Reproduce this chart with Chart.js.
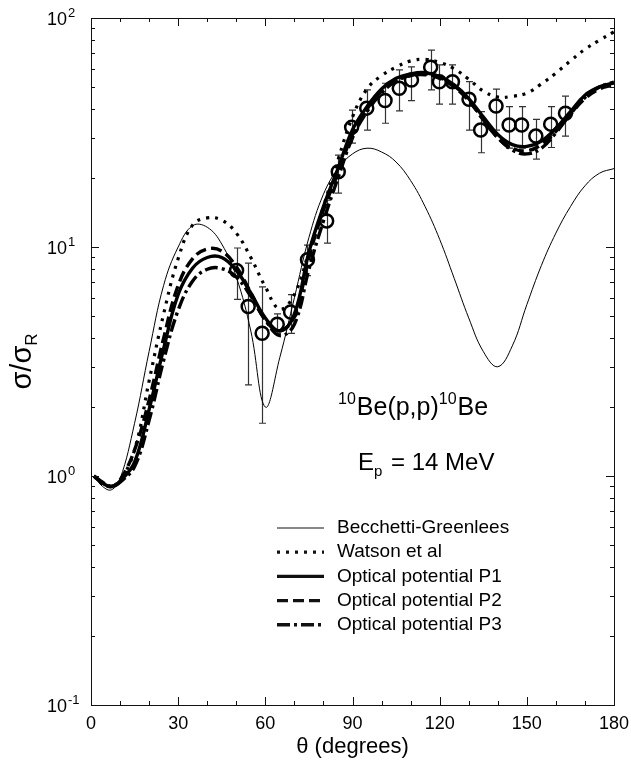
<!DOCTYPE html>
<html>
<head>
<meta charset="utf-8">
<script src="https://cdn.jsdelivr.net/npm/chart.js@4.4.1/dist/chart.umd.min.js"></script>
<style>
  html, body { margin: 0; padding: 0; background: #fff; }
  #wrap { width: 631px; height: 766px; }
</style>
</head>
<body>
<div id="wrap"><canvas id="chart" width="631" height="766"></canvas></div>
<script>
// angles (degrees) shared by the calculated curves
const theta = [1, 4, 7, 10, 15, 20, 25, 30, 35, 40, 45, 50, 55, 60, 65, 70, 75, 80, 85, 90,
  95, 100, 105, 110, 115, 120, 125, 130, 135, 140, 145, 150, 155, 160, 165, 170, 175, 180];

const becchetti = [1.0, 0.9, 0.87, 0.97, 1.7, 3.5, 6.8, 10.0, 12.4, 12.2, 10.3, 7.4, 4.3, 2.0, 3.3, 6.0, 11, 17, 22, 25.5,
  27, 26, 23.5, 19.5, 15.0, 10.8, 7.3, 4.9, 3.5, 3.0, 3.7, 5.6, 8.3, 11.5, 15, 18.5, 21, 22];
const watson = [1.0, 0.92, 0.9, 0.95, 1.3, 2.6, 5.1, 8.9, 12.5, 13.4, 13.1, 11.5, 9.0, 6.7, 5.35, 6.2, 9.5, 15, 24, 37,
  49, 56, 61, 65, 66, 64, 60, 54, 48, 45.2, 45.5, 47, 51.5, 57.5, 65, 73, 80, 87];
const p1 = [1.0, 0.93, 0.9, 0.95, 1.15, 1.95, 3.6, 6.2, 8.1, 9.0, 9.0, 7.9, 6.3, 4.9, 4.3, 5.1, 9.5, 15, 22, 32.5,
  41, 49, 54.5, 57, 57.7, 55.5, 51, 44.5, 37, 31, 28, 27.5, 29, 33, 39, 46, 50, 52];
const p2 = [1.0, 0.93, 0.9, 0.96, 1.3, 2.15, 4.0, 6.8, 8.9, 9.8, 9.6, 8.2, 6.3, 4.8, 4.3, 5.0, 9.0, 14.5, 21, 31,
  40, 48, 53.5, 56, 56.5, 54.5, 50, 43.5, 36, 30, 27, 26.3, 28, 32, 38, 44.5, 49, 51];
const p3 = [1.0, 0.94, 0.9, 0.94, 1.1, 1.75, 3.2, 5.3, 7.1, 8.0, 8.05, 7.4, 6.1, 4.8, 4.1, 4.6, 8.0, 13, 20, 30,
  39, 47, 53, 56, 57, 55, 50.5, 44, 36, 30, 26.5, 25.5, 27, 31.5, 38, 45, 50, 52.5];

// measured points with error bars
const expTheta = [50.1, 54.1, 58.9, 64.1, 68.7, 74.5, 81.1, 85.1, 89.7, 94.9, 101.2, 106.1, 110.3, 116.9,
  119.9, 124.4, 130.1, 134.1, 139.4, 143.9, 148.2, 153.1, 158.2, 163.3];
const expValue = [7.9, 5.5, 4.2, 4.6, 5.2, 8.8, 13.0, 21.3, 33.3, 40.4, 43.6, 49.3, 53.6, 61.0,
  52.7, 52.7, 44.2, 32.4, 41.3, 34.1, 34.1, 30.5, 34.4, 38.4];
const expLow = [5.9, 2.5, 1.7, 4.2, 4.2, 7.5, 10.4, 17.2, 28.4, 32.4, 34.7, 39.3, 43.6, 48.5,
  42.1, 42.1, 32.4, 25.8, 32.4, 27, 27, 24.2, 27.2, 30.5];
const expHigh = [9.9, 8.5, 6.7, 5.1, 6.2, 10.2, 16, 25.2, 39.6, 48.5, 51.9, 59.3, 61.2, 72.4,
  62.4, 62.4, 52.7, 39, 48.9, 41, 41, 36.1, 41, 45.6];

// axis ticks
const xMajor = [0, 30, 60, 90, 120, 150, 180];
const yDecades = [-1, 0, 1, 2];

const legendLabels = ['Becchetti-Greenlees', 'Watson et al', 'Optical potential P1',
  'Optical potential P2', 'Optical potential P3'];

const FONT = '"Liberation Sans", Arial, Helvetica, sans-serif';

const pts = (ys) => theta.map((t, i) => ({ x: t, y: ys[i] }));

const curve = (label, ys, width, dash) => ({
  label,
  data: pts(ys),
  borderColor: '#000',
  borderWidth: width,
  borderDash: dash,
  borderCapStyle: 'butt',
  tension: 0.4,
  pointRadius: 0,
  fill: false
});

const datasets = [
  curve(legendLabels[0], becchetti, 1, []),
  curve(legendLabels[1], watson, 3.2, [3, 6]),
  curve(legendLabels[2], p1, 3.4, []),
  curve(legendLabels[3], p2, 3.4, [11, 5]),
  curve(legendLabels[4], p3, 3.4, [13, 4, 3, 4]),
  {
    label: 'data',
    data: expTheta.map((t, i) => ({ x: t, y: expValue[i] })),
    showLine: false,
    pointStyle: 'circle',
    pointRadius: 6.5,
    pointBorderWidth: 2.5,
    pointBorderColor: '#000',
    pointBackgroundColor: 'rgba(0,0,0,0)'
  }
];

// error bars, frame, ticks, labels and legend
const decor = {
  id: 'decor',
  beforeDatasetsDraw(chart) {
    const { ctx } = chart;
    const x = chart.scales.x, y = chart.scales.y;
    ctx.save();
    ctx.strokeStyle = '#333';
    ctx.lineWidth = 1.2;
    expTheta.forEach((t, i) => {
      const px = Math.round(x.getPixelForValue(t)) + 0.5;
      const y1 = y.getPixelForValue(expLow[i]);
      const y2 = y.getPixelForValue(expHigh[i]);
      ctx.beginPath();
      ctx.moveTo(px, y1); ctx.lineTo(px, y2);
      ctx.moveTo(px - 3.5, y1); ctx.lineTo(px + 3.5, y1);
      ctx.moveTo(px - 3.5, y2); ctx.lineTo(px + 3.5, y2);
      ctx.stroke();
    });
    ctx.restore();
  },
  afterDraw(chart) {
    const { ctx, chartArea: a } = chart;
    const x = chart.scales.x, y = chart.scales.y;
    ctx.save();
    ctx.strokeStyle = '#111';
    ctx.lineWidth = 1;
    ctx.strokeRect(Math.round(a.left) + 0.5, Math.round(a.top) + 0.5,
      Math.round(a.right - a.left), Math.round(a.bottom - a.top));

    // x ticks, inward on bottom and top
    ctx.beginPath();
    for (let v = 0; v <= 180; v += 10) {
      const px = Math.round(x.getPixelForValue(v)) + 0.5;
      const len = v % 30 === 0 ? 8 : 4;
      ctx.moveTo(px, a.bottom); ctx.lineTo(px, a.bottom - len);
      ctx.moveTo(px, a.top); ctx.lineTo(px, a.top + len);
    }
    // y ticks, inward on left and right
    yDecades.forEach(d => {
      for (let m = 1; m <= 9; m++) {
        if (d === 2 && m > 1) break;
        const py = Math.round(y.getPixelForValue(m * Math.pow(10, d))) + 0.5;
        const len = m === 1 ? 8 : 4;
        ctx.moveTo(a.left, py); ctx.lineTo(a.left + len, py);
        ctx.moveTo(a.right, py); ctx.lineTo(a.right - len, py);
      }
    });
    ctx.stroke();

    ctx.fillStyle = '#000';
    // x tick labels
    ctx.font = '18px ' + FONT;
    ctx.textAlign = 'center';
    ctx.textBaseline = 'alphabetic';
    xMajor.forEach(v => ctx.fillText(String(v), x.getPixelForValue(v), a.bottom + 24));

    // y tick labels 10^n
    yDecades.forEach(d => {
      const py = y.getPixelForValue(Math.pow(10, d));
      ctx.font = '18px ' + FONT;
      ctx.textAlign = 'right';
      ctx.fillText('10', 67, py + 7);
      ctx.font = '13px ' + FONT;
      ctx.textAlign = 'left';
      ctx.fillText(d < 0 ? '-' + (-d) : String(d), 68, py - 1);
    });

    // axis titles
    ctx.font = '22px ' + FONT;
    ctx.textAlign = 'center';
    ctx.fillText('\u03b8 (degrees)', (a.left + a.right) / 2, a.bottom + 48);

    ctx.save();
    ctx.translate(31, (a.top + a.bottom) / 2);
    ctx.rotate(-Math.PI / 2);
    ctx.font = '29px ' + FONT;
    const main = '\u03c3/\u03c3';
    const wMain = ctx.measureText(main).width;
    ctx.font = '17px ' + FONT;
    const wSub = ctx.measureText('R').width;
    const sx = -(wMain + wSub) / 2;
    ctx.textAlign = 'left';
    ctx.font = '29px ' + FONT;
    ctx.fillText(main, sx, 0);
    ctx.font = '17px ' + FONT;
    ctx.fillText('R', sx + wMain, 6);
    ctx.restore();

    // reaction label
    ctx.textAlign = 'left';
    let cx = 338;
    const parts = [['10', 16, -11], ['Be(p,p)', 25, 0], ['10', 16, -11], ['Be', 25, 0]];
    parts.forEach(([s, f, dy]) => {
      ctx.font = f + 'px ' + FONT;
      ctx.fillText(s, cx, 415 + dy);
      cx += ctx.measureText(s).width + (f < 20 ? 1 : 0);
    });
    ctx.font = '24px ' + FONT;
    cx = 358;
    ctx.fillText('E', cx, 470);
    cx += ctx.measureText('E').width;
    ctx.font = '15px ' + FONT;
    ctx.fillText('p', cx, 476);
    cx += ctx.measureText('p').width + 2;
    ctx.font = '24px ' + FONT;
    ctx.fillText(' = 14 MeV', cx, 470);

    // legend
    ctx.font = '19px ' + FONT;
    ctx.textBaseline = 'middle';
    datasets.slice(0, 5).forEach((ds, i) => {
      const ly = 528 + i * 24.2;
      ctx.save();
      ctx.lineWidth = ds.borderWidth;
      ctx.setLineDash(ds.borderDash);
      ctx.lineCap = 'butt';
      ctx.beginPath();
      ctx.moveTo(277, ly); ctx.lineTo(324, ly);
      ctx.stroke();
      ctx.restore();
      ctx.fillText(ds.label, 337, ly);
    });
    ctx.restore();
  }
};

new Chart(document.getElementById('chart'), {
  type: 'line',
  data: { datasets },
  options: {
    responsive: false,
    animation: false,
    layout: { padding: { left: 91, right: 17, top: 18, bottom: 61 } },
    plugins: { legend: { display: false }, tooltip: { enabled: false } },
    scales: {
      x: { type: 'linear', min: 0, max: 180, display: false },
      y: { type: 'logarithmic', min: 0.1, max: 100, display: false }
    }
  },
  plugins: [decor]
});
</script>
</body>
</html>
